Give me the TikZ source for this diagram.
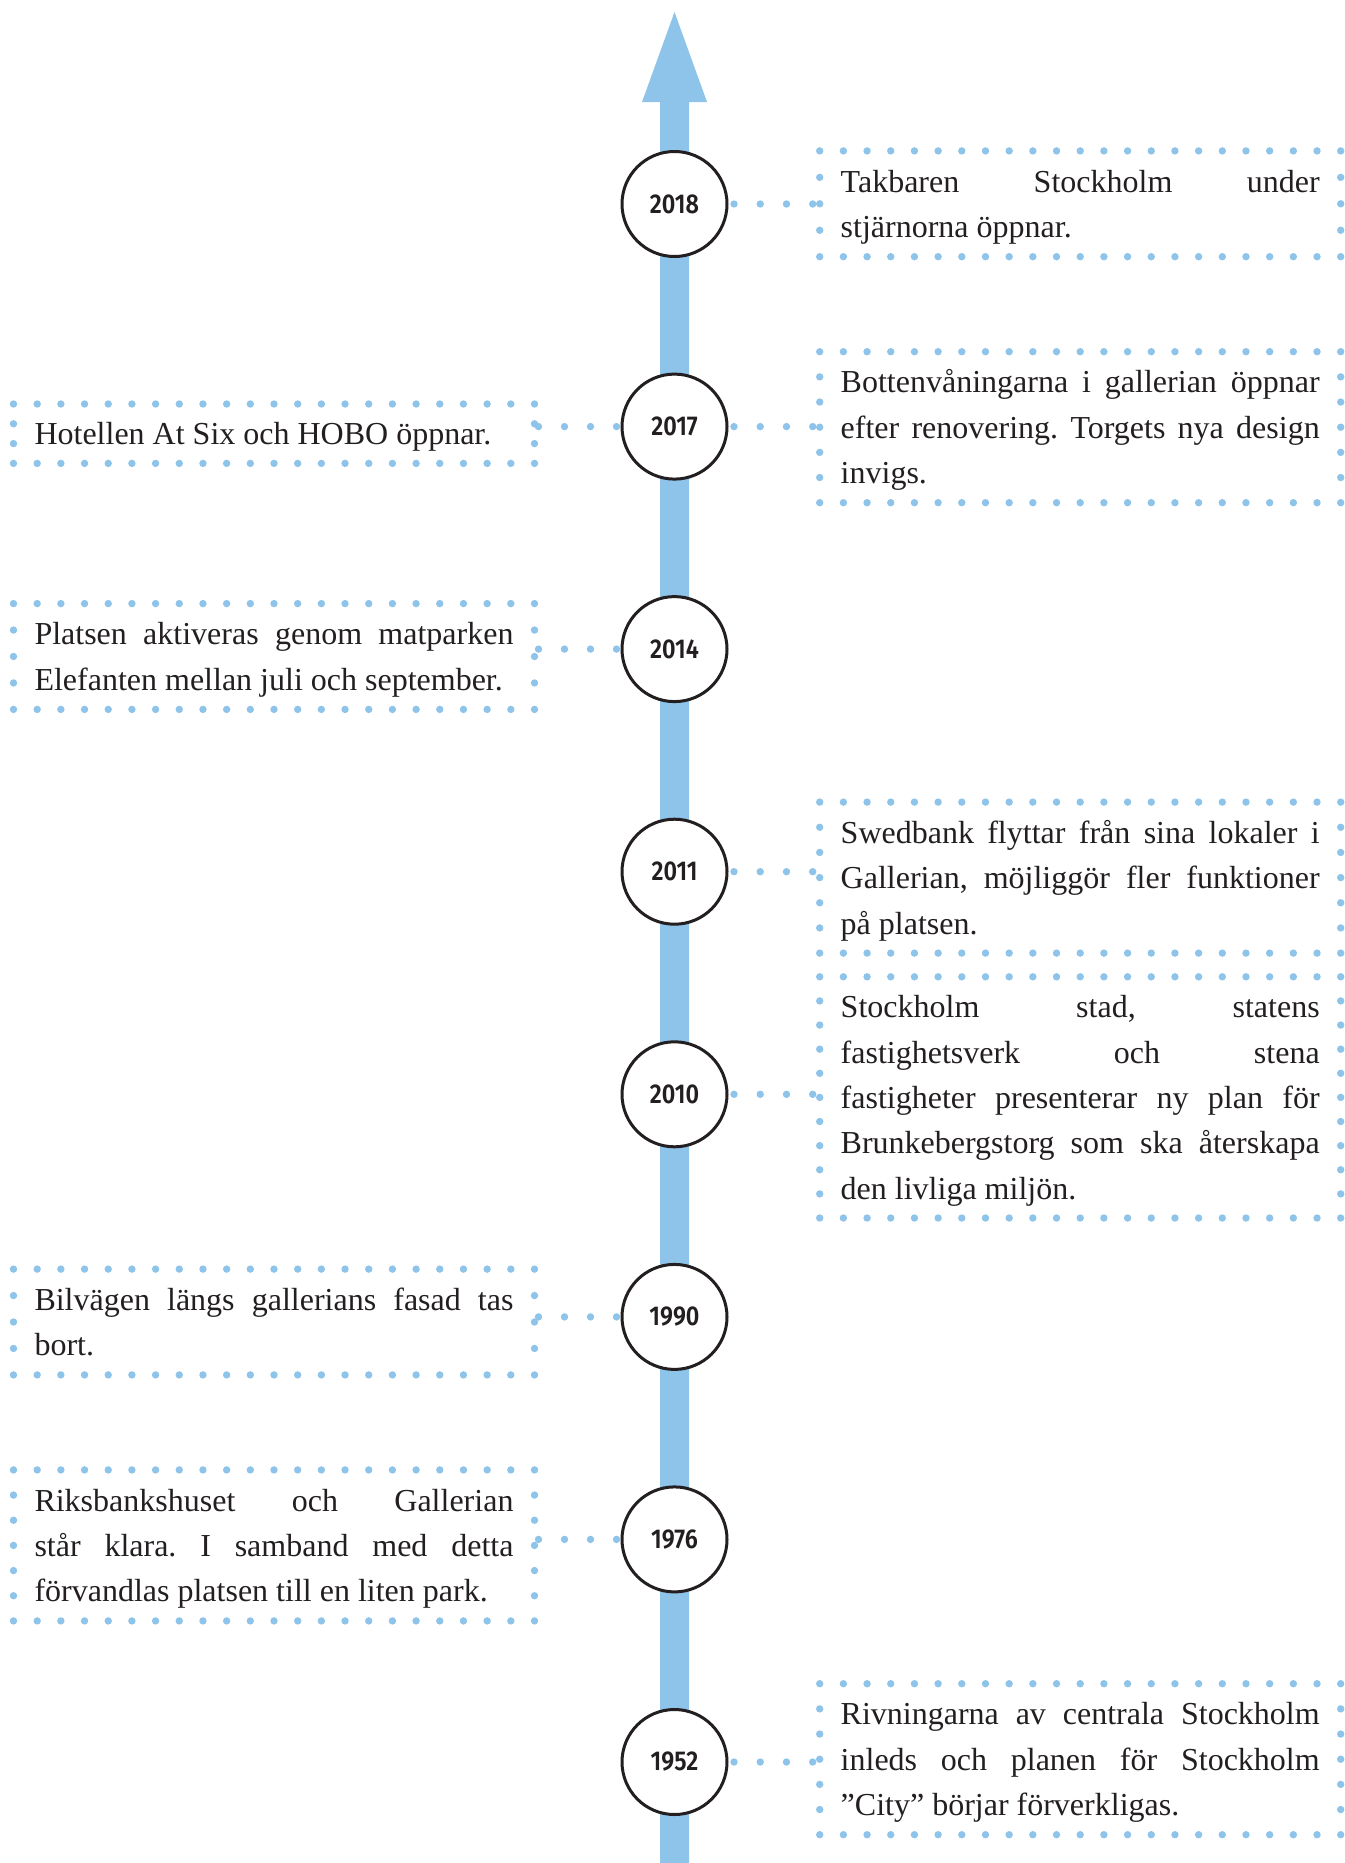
\documentclass[tikz,border=0pt]{standalone}
\usepackage{fontspec}
\setmainfont{Liberation Serif}
\newfontfamily\yearfont[FakeStretch=0.86]{Fira Sans SemiBold}
\usetikzlibrary{calc,decorations.markings}
\definecolor{lineblue}{RGB}{142,195,234}
\definecolor{ink}{RGB}{35,31,32}
\hyphenpenalty=10000
\exhyphenpenalty=10000
\frenchspacing
\def\dotr{1.85pt}
\newcommand\tstart{\rule{0pt}{16.9pt}}
\newcommand\tend{\rule[-5.8pt]{0pt}{5.8pt}}
% dotted frame around a named node, dots spaced evenly on every side
\newcommand\dotframe[1]{%
  \pgfpointanchor{#1}{south west}\pgfgetlastxy{\fxa}{\fya}%
  \pgfpointanchor{#1}{north east}\pgfgetlastxy{\fxb}{\fyb}%
  \pgfmathtruncatemacro\fnx{max(1,round((\fxb-\fxa)/11.8))}%
  \pgfmathtruncatemacro\fny{max(2,round((\fyb-\fya)/11.8))}%
  \pgfmathtruncatemacro\fnym{\fny-1}%
  \foreach \i in {0,...,\fnx}{%
    \fill[lineblue] ({\fxa+(\fxb-\fxa)*\i/\fnx},{\fya}) circle[radius=\dotr];
    \fill[lineblue] ({\fxa+(\fxb-\fxa)*\i/\fnx},{\fyb}) circle[radius=\dotr];}%
  \foreach \j in {1,...,\fnym}{%
    \fill[lineblue] ({\fxa},{\fya+(\fyb-\fya)*\j/\fny}) circle[radius=\dotr];
    \fill[lineblue] ({\fxb},{\fya+(\fyb-\fya)*\j/\fny}) circle[radius=\dotr];}%
}
\begin{document}
\begin{tikzpicture}[x=0.5pt,y=-0.5pt,
  yr/.style={circle, draw=ink, line width=1.5pt, fill=white, minimum size=52.5pt,
    inner sep=0pt, text=ink, font=\yearfont\fontsize{13.6pt}{13.6pt}\selectfont},
  tbox/.style={rectangle, outer sep=0pt, inner xsep=10.5pt, inner ysep=0pt,
    text width=239.5pt, minimum width=260.5pt, align=justify, text=ink,
    font=\fontsize{16pt}{22.7pt}\selectfont},
  conn/.style={decoration={markings, mark=between positions 0 and 1 step 0.3333
    with {\fill[lineblue] (0,0) circle[radius=\dotr];}}, decorate}]
\useasboundingbox (0,0) rectangle (1344,1863);

% time axis with arrow head
\fill[lineblue] (660,1863) -- (660,102) -- (642,102) -- (674.5,12) -- (707,102)
  -- (689,102) -- (689,1863) -- cycle;

% years
\node[yr] (c2018) at (674.5,204) {2018};
\node[yr] (c2017) at (674.5,426.6) {2017};
\node[yr] (c2014) at (674.5,649.1) {2014};
\node[yr] (c2011) at (674.5,871.7) {2011};
\node[yr] (c2010) at (674.5,1094.3) {2010};
\node[yr] (c1990) at (674.5,1316.9) {1990};
\node[yr] (c1976) at (674.5,1539.4) {1976};
\node[yr] (c1952) at (674.5,1762) {1952};

% events
\node[tbox, minimum height=52.9pt] (b2018) at (1080.2,203.8)
  {\tstart Takbaren Stockholm under\linebreak stjärnorna öppnar.\tend};
\node[tbox, minimum height=75.5pt] (b2017r) at (1080.2,427.2)
  {\tstart Bottenvåningarna i gallerian öppnar\linebreak efter renovering. Torgets nya design\linebreak invigs.\tend};
\node[tbox, minimum height=29.7pt] (b2017l) at (274,433.7)
  {\tstart Hotellen At Six och HOBO öppnar.\tend};
\node[tbox, minimum height=52.9pt] (b2014) at (274,656.5)
  {\tstart Platsen aktiveras genom matparken\linebreak Elefanten mellan juli och september.\tend};
\node[tbox, minimum height=75.5pt] (b2011) at (1080.2,877.6)
  {\tstart Swedbank flyttar från sina lokaler i\linebreak Gallerian, möjliggör fler funktioner\linebreak på platsen.\tend};
\node[tbox, minimum height=120.6pt] (b2010) at (1080.2,1097.4)
  {\tstart Stockholm stad, statens\linebreak fastighetsverk och stena\linebreak fastigheter presenterar ny plan för\linebreak Brunkebergstorg som ska återskapa\linebreak den livliga miljön.\tend};
\node[tbox, minimum height=52.9pt] (b1990) at (274,1322)
  {\tstart Bilvägen längs gallerians fasad tas\linebreak bort.\tend};
\node[tbox, minimum height=75.5pt] (b1976) at (274,1545.4)
  {\tstart Riksbankshuset och Gallerian\linebreak står klara. I samband med detta\linebreak förvandlas platsen till en liten park.\tend};
\node[tbox, minimum height=75.5pt] (b1952) at (1080.2,1759.2)
  {\tstart Rivningarna av centrala Stockholm\linebreak inleds och planen för Stockholm\linebreak ”City” börjar förverkligas.\tend};

\foreach \b in {b2018,b2017r,b2017l,b2014,b2011,b2010,b1990,b1976,b1952}{\dotframe{\b}}

% dotted connectors, circle to box
\foreach \c/\b in {c2018/b2018,c2017/b2017r,c2011/b2011,c2010/b2010,c1952/b1952}{
  \path[conn] ($(\c.east)+(2.75pt,0)$) -- ($(\c.east -| \b.west)+(-3.5pt,0)$);}
\foreach \c/\b in {c2017/b2017l,c2014/b2014,c1990/b1990,c1976/b1976}{
  \path[conn] ($(\b.east |- \c.west)+(2pt,0)$) -- ($(\c.west)+(-2pt,0)$);}
\end{tikzpicture}
\end{document}
